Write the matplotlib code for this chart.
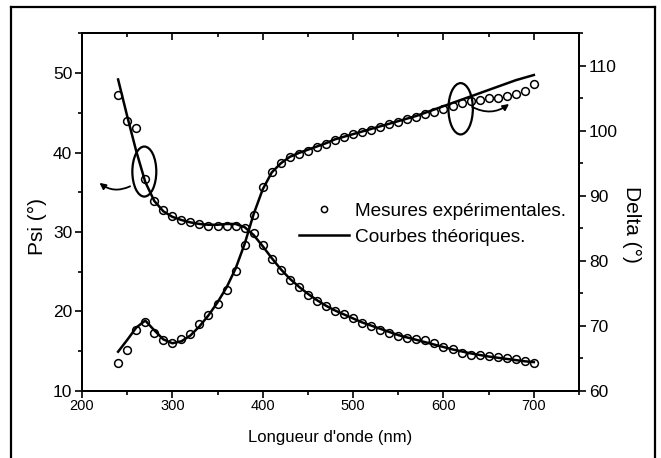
import matplotlib
matplotlib.use('Agg')
import matplotlib.pyplot as plt
from matplotlib import font_manager
from matplotlib.patches import Ellipse
from matplotlib.lines import Line2D
from matplotlib.ticker import MultipleLocator

# wavelengths (nm), one point every 10 nm
wl = list(range(240, 701, 10))

psi_mes = [47.3, 44.0, 43.1, 36.7, 33.9, 32.8, 32.0, 31.5, 31.2, 31.0,
           30.8, 30.75, 30.75, 30.8, 30.5, 29.9, 28.3, 26.6, 25.2, 24.0,
           23.0, 22.1, 21.3, 20.65, 20.0, 19.6, 19.1, 18.55, 18.1, 17.7,
           17.3, 16.9, 16.6, 16.5, 16.4, 16.0, 15.5, 15.2, 14.8, 14.5,
           14.5, 14.4, 14.2, 14.1, 14.0, 13.8, 13.5]
psi_th = [49.2, 44.6, 40.2, 36.3, 33.9, 32.6, 31.9, 31.5, 31.2, 31.0,
          30.9, 30.9, 31.0, 31.0, 30.6, 29.6, 28.2, 26.7, 25.3, 24.1,
          23.1, 22.2, 21.4, 20.7, 20.1, 19.6, 19.1, 18.6, 18.2, 17.8,
          17.4, 17.0, 16.7, 16.4, 16.1, 15.8, 15.5, 15.2, 14.95, 14.7,
          14.5, 14.3, 14.15, 14.0, 13.85, 13.7, 13.6]

delta_mes = [64.3, 66.2, 69.4, 70.5, 68.9, 67.8, 67.4, 68.0, 68.7, 70.2,
             71.6, 73.4, 75.5, 78.5, 82.5, 87.0, 91.4, 93.7, 95.1, 96.0,
             96.5, 96.9, 97.5, 98.0, 98.6, 99.1, 99.5, 99.85, 100.2, 100.6,
             101.0, 101.4, 101.75, 102.2, 102.6, 102.9, 103.3, 103.8, 104.3, 104.6,
             104.8, 105.0, 105.1, 105.3, 105.6, 106.1, 107.2]
delta_th = [66.0, 67.8, 69.7, 70.8, 69.3, 67.9, 67.3, 67.6, 68.5, 69.9,
            71.6, 73.6, 75.9, 78.8, 82.6, 87.2, 91.0, 93.6, 95.0, 96.0,
            96.6, 97.1, 97.6, 98.1, 98.7, 99.1, 99.5, 99.9, 100.3, 100.7,
            101.1, 101.5, 101.9, 102.3, 102.8, 103.3, 103.8, 104.3, 104.8, 105.3,
            105.8, 106.3, 106.8, 107.3, 107.8, 108.2, 108.6]

names = {f.name for f in font_manager.fontManager.ttflist}
if 'Liberation Sans Narrow' in names:
    narrow, xtick_fs, xlab_fs = 'Liberation Sans Narrow', 11.5, 13.5
else:
    narrow, xtick_fs, xlab_fs = 'Liberation Sans', 10.5, 12.0
plt.rcParams['font.family'] = ['Liberation Sans', 'DejaVu Sans']

fig = plt.figure(figsize=(6.61, 4.58), dpi=100)
ax = fig.add_axes([0.124, 0.147, 0.752, 0.78])
ax2 = ax.twinx()

mk = dict(ls='none', marker='o', ms=5.6, mfc='none', mec='k', mew=1.1)
ax.plot(wl, psi_th, 'k-', lw=1.8, label='Courbes théoriques.')
ax.plot(wl, psi_mes, label='Mesures expérimentales.', **mk)
ax2.plot(wl, delta_th, 'k-', lw=1.8)
ax2.plot(wl, delta_mes, **mk)

ax.set_xlim(200, 750)
ax.set_ylim(10, 55)
ax2.set_ylim(60, 115)

ax.xaxis.set_major_locator(MultipleLocator(100))
ax.xaxis.set_minor_locator(MultipleLocator(50))
ax.yaxis.set_minor_locator(MultipleLocator(5))
ax2.yaxis.set_minor_locator(MultipleLocator(5))
ax.set_yticks([10, 20, 30, 40, 50])
ax2.set_yticks([60, 70, 80, 90, 100, 110])

for a in (ax, ax2):
    for s in a.spines.values():
        s.set_linewidth(1.4)
    a.tick_params(which='major', length=5, width=1.2, direction='out', labelsize=12.5, pad=2)
    a.tick_params(which='minor', length=3, width=1.2, direction='out')
ax.tick_params(axis='x', labelsize=xtick_fs, pad=1)
for t in ax.get_xticklabels():
    t.set_fontfamily(narrow)

top = ax.secondary_xaxis('top')
top.xaxis.set_major_locator(MultipleLocator(100))
top.xaxis.set_minor_locator(MultipleLocator(50))
top.tick_params(which='both', direction='in', labeltop=False, width=1.2)
top.tick_params(which='major', length=5)
top.tick_params(which='minor', length=3)
top.spines['top'].set_linewidth(1.4)

ax.set_xlabel("Longueur d'onde (nm)", fontsize=xlab_fs, fontfamily=narrow, labelpad=12)
ax.set_ylabel('Psi (°)', fontsize=15, va='center')
ax.yaxis.set_label_coords(-0.09, 0.46)
ax2.set_ylabel('Delta (°)', fontsize=15, rotation=-90, va='center')
ax2.yaxis.set_label_coords(1.105, 0.464)

# ellipses + arrows pointing to the matching axis
ax.add_patch(Ellipse((269, 37.6), 26.5, 6.3, fill=False, lw=1.6, ec='k'))
ax.annotate('', xy=(217, 36.4), xytext=(256, 35.9),
            arrowprops=dict(arrowstyle='-|>', connectionstyle='arc3,rad=-0.35',
                            lw=1.3, color='k', mutation_scale=9))
ax2.add_patch(Ellipse((619, 103.4), 27, 7.9, fill=False, lw=1.6, ec='k'))
ax2.annotate('', xy=(675, 104.4), xytext=(629, 103.9),
             arrowprops=dict(arrowstyle='-|>', connectionstyle='arc3,rad=0.35',
                             lw=1.3, color='k', mutation_scale=9))

h, l = ax.get_legend_handles_labels()
ax.legend(h[::-1], l[::-1], loc='upper left', bbox_to_anchor=(0.437, 0.527),
          frameon=False, fontsize=13.7, handlelength=2.6, handletextpad=0.35,
          labelspacing=0.45, borderpad=0, borderaxespad=0, markerscale=0.8)

# outer frame (open at the bottom)
fx0, fx1, fy1 = 11 / 661, 655 / 661, 1 - 7 / 458
for xs, ys in [([fx0, fx0], [0, fy1]), ([fx0, fx1], [fy1, fy1]), ([fx1, fx1], [fy1, 0])]:
    fig.add_artist(Line2D(xs, ys, color='k', lw=1.6, transform=fig.transFigure))

fig.savefig('out.png', dpi=100)
